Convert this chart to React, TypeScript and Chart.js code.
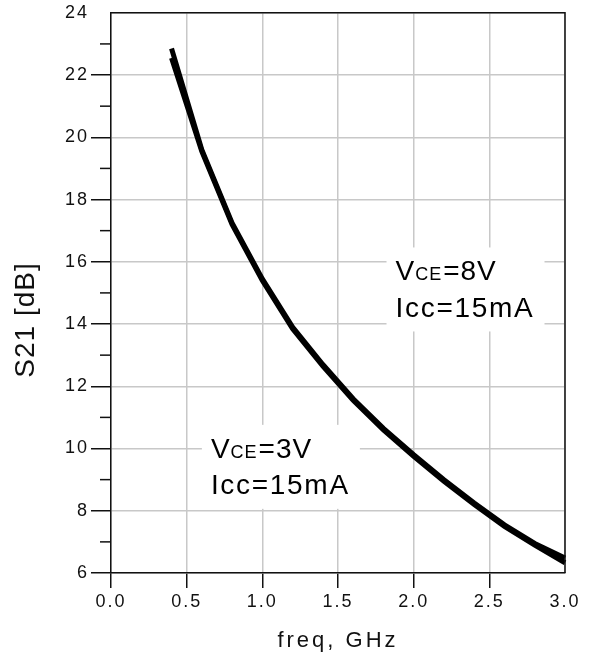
import React, { useEffect, useRef } from 'react';
import { Chart, registerables } from 'chart.js';

Chart.register(...registerables);

// S21 vs frequency, two bias points
const freqGHz = [0.4, 0.6, 0.8, 1.0, 1.2, 1.4, 1.6, 1.8, 2.0, 2.2, 2.4, 2.6, 2.8, 3.0];
const s21Vce8 = [22.85, 19.6, 17.25, 15.45, 13.9, 12.7, 11.6, 10.65, 9.8, 9.0, 8.25, 7.55, 6.95, 6.48];
const s21Vce3 = [22.55, 19.55, 17.2, 15.4, 13.85, 12.65, 11.55, 10.6, 9.75, 8.95, 8.2, 7.5, 6.9, 6.33];

// bias annotations (anchor in data coords)
const labelVce = ['3V', '8V'];
const labelIcc = ['15mA', '15mA'];
const labelFreq = [0.66, 1.88];
const labelS21 = [9.7, 15.4];

const FONT = '"Liberation Sans", Arial, sans-serif';

const decorPlugin = {
  id: 'decor',
  beforeDraw(chart: any) {
    // spaced tick labels, like the original
    chart.ctx.letterSpacing = '2px';
  },
  afterDraw(chart: any) {
    const { ctx, chartArea: a, scales } = chart;
    const xs = scales.x;
    const ys = scales.y;
    ctx.save();

    // top + right frame
    ctx.strokeStyle = '#111';
    ctx.lineWidth = 1.5;
    ctx.beginPath();
    ctx.moveTo(a.left, a.top);
    ctx.lineTo(a.right, a.top);
    ctx.lineTo(a.right, a.bottom);
    ctx.stroke();

    // minor ticks on the y axis
    for (let v = ys.min + 1; v < ys.max; v += 2) {
      const py = ys.getPixelForValue(v);
      ctx.beginPath();
      ctx.moveTo(a.left - 11, py);
      ctx.lineTo(a.left, py);
      ctx.stroke();
    }

    // bias labels with white background
    labelFreq.forEach((f, i) => {
      const x = xs.getPixelForValue(f);
      const y = ys.getPixelForValue(labelS21[i]);
      ctx.fillStyle = '#fff';
      ctx.fillRect(x - 9, y - 33, 158, 84);
      ctx.fillStyle = '#000';
      ctx.textAlign = 'left';
      ctx.textBaseline = 'alphabetic';
      ctx.letterSpacing = '1px';
      let cx = x;
      ctx.font = `28px ${FONT}`;
      ctx.fillText('V', cx, y);
      cx += ctx.measureText('V').width;
      ctx.font = `18px ${FONT}`;
      ctx.fillText('CE', cx, y);
      cx += ctx.measureText('CE').width + 1;
      ctx.font = `28px ${FONT}`;
      ctx.fillText('=' + labelVce[i], cx, y);
      ctx.letterSpacing = '1.7px';
      ctx.fillText('Icc=' + labelIcc[i], x, y + 36.5);
    });

    // axis titles
    ctx.fillStyle = '#111';
    ctx.textAlign = 'center';
    ctx.textBaseline = 'middle';
    ctx.letterSpacing = '1px';
    ctx.font = `28px ${FONT}`;
    ctx.save();
    ctx.translate(26, 320);
    ctx.rotate(-Math.PI / 2);
    ctx.fillText('S21 [dB]', 0, 0);
    ctx.restore();
    ctx.letterSpacing = '3px';
    ctx.font = `22px ${FONT}`;
    ctx.fillText('freq, GHz', (a.left + a.right) / 2, 641);

    ctx.letterSpacing = '0px';
    ctx.restore();
  },
};

export default function App() {
  const chartRef = useRef<HTMLCanvasElement>(null);

  useEffect(() => {
    if (!chartRef.current) return;
    const chart = new Chart(chartRef.current, {
      type: 'line',
      data: {
        datasets: [
          {
            label: 'VCE=8V',
            data: freqGHz.map((f, i) => ({ x: f, y: s21Vce8[i] })),
            borderColor: '#000',
            borderWidth: 5,
            pointRadius: 0,
            tension: 0,
            clip: false,
          },
          {
            label: 'VCE=3V',
            data: freqGHz.map((f, i) => ({ x: f, y: s21Vce3[i] })),
            borderColor: '#000',
            borderWidth: 5,
            pointRadius: 0,
            tension: 0,
            clip: false,
          },
        ],
      },
      options: {
        responsive: true,
        maintainAspectRatio: false,
        animation: false,
        layout: { padding: { top: 12, right: 24, left: 0, bottom: 0 } },
        plugins: {
          legend: { display: false },
          tooltip: { enabled: false },
        },
        scales: {
          x: {
            type: 'linear',
            min: 0,
            max: 3,
            afterFit: (s: any) => {
              s.height = 85;
            },
            ticks: {
              stepSize: 0.5,
              autoSkip: false,
              maxRotation: 0,
              padding: 3,
              color: '#111',
              font: { family: FONT, size: 18 },
              callback: (v: any) => Number(v).toFixed(1),
            },
            grid: {
              color: '#c8c8c8',
              lineWidth: 1.5,
              tickLength: 15,
              tickWidth: 1.5,
              tickColor: (c: any) => (c.tick && c.tick.value === 3 ? 'rgba(0,0,0,0)' : '#111'),
            },
            border: { color: '#111', width: 1.5 },
          },
          y: {
            min: 6,
            max: 24,
            afterFit: (s: any) => {
              s.width = 111;
            },
            ticks: {
              stepSize: 2,
              padding: 2,
              color: '#111',
              font: { family: FONT, size: 18 },
            },
            grid: {
              color: '#c8c8c8',
              lineWidth: 1.5,
              tickLength: 20,
              tickWidth: 1.5,
              tickColor: (c: any) => (c.tick && c.tick.value === 24 ? 'rgba(0,0,0,0)' : '#111'),
            },
            border: { color: '#111', width: 1.5 },
          },
        },
      },
      plugins: [decorPlugin],
    });
    return () => chart.destroy();
  }, []);

  return (
    <div style={{ position: 'absolute', left: 0, top: 0, width: 589, height: 658, background: '#fff' }}>
      <canvas ref={chartRef}></canvas>
    </div>
  );
}
